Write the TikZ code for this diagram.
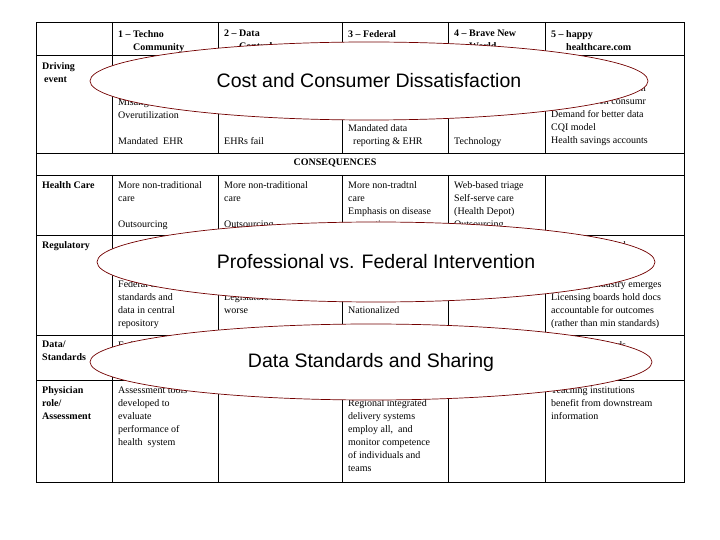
\documentclass[tikz,border=0pt]{standalone}
\usepackage{fontspec}
\setmainfont{Liberation Serif}
\newfontfamily\arialf{Liberation Sans}
\usetikzlibrary{shapes.geometric}
\begin{document}
\begin{tikzpicture}[x=1pt,y=-1pt,
  cell/.style={anchor=north west,inner sep=0pt,align=left,font=\fontsize{10}{13}\selectfont},
  hdr/.style={cell,font=\fontsize{10}{13}\selectfont\bfseries},
  oval/.style={ellipse,draw=red!45!black,fill=white,line width=0.7pt,inner sep=0pt},
  otext/.style={font=\arialf\fontsize{19.5}{21}\selectfont}]
\useasboundingbox (0,0) rectangle (720,540);
% grid
\draw[line width=0.8pt] (36,22) rectangle (684,482);
\foreach \y in {55,153,175,235,335,380} \draw[line width=0.8pt] (36,\y) -- (684,\y);
\foreach \x in {112,218,342,448,545} {
  \draw[line width=0.8pt] (\x,22) -- (\x,153);
  \draw[line width=0.8pt] (\x,175) -- (\x,482);}
% headers
\node[hdr] (h1) at (118,30) {1 -- Techno\\\hspace{15pt}Community};
\node[hdr] (h2) at (224,30) {2 -- Data\\\hspace{15pt}Control};
\node[hdr] (h3) at (348,30) {3 -- Federal};
\node[hdr] (h4) at (454,30) {4 -- Brave New\\\hspace{15pt}World};
\node[hdr] (h5) at (551,30) {5 -- happy\\\hspace{15pt}healthcare.com};
% row labels
\node[hdr] (r1) at (42,62) {Driving\\\hspace{2pt}event};
\node[hdr] at (335,159) [anchor=north] (cons) {CONSEQUENCES};
\node[hdr] (r2) at (42,181) {Health Care};
\node[hdr] (r3) at (42,241) {Regulatory};
\node[hdr] (r4) at (42,341) {Data/\\Standards};
\node[hdr] (r5) at (42,386) {Physician\\role/\\Assessment};
% driving row
\node[cell] (d1) at (118,98) {Misaligned incentives\\Overutilization\\[13pt]Mandated\ \ EHR};
\node[cell] (d2) at (224,137) {EHRs fail};
\node[cell] (d3) at (348,111) {No health system\\Mandated data\\\ \ reporting \& EHR};
\node[cell] (d4) at (454,137) {Technology};
\node[cell] (d5) at (551,85) {Rising consumerization\\Market-driven consumr\\Demand for better data\\CQI model\\Health savings accounts};
% health care row
\node[cell] (c1) at (118,181) {More non-traditional\\care\\[13pt]Outsourcing};
\node[cell] (c2) at (224,181) {More non-traditional\\care\\[13pt]Outsourcing};
\node[cell] (c3) at (348,181) {More non-tradtnl\\care\\Emphasis on disease\\prevention};
\node[cell] (c4) at (454,181) {Web-based triage\\Self-serve care\\(Health Depot)\\Outsourcing};
% regulatory row
\node[cell] (g1) at (118,280) {Federal data\\standards and\\data in central\\repository};
\node[cell] (g2) at (224,293) {Legislators make it\\worse};
\node[cell] (g3) at (348,293) {Healthcare is\\Nationalized};
\node[cell] (g5) at (551,241) {Local and regional\\accreditation of\\physicians are\\Licensing industry emerges\\Licensing boards hold docs\\accountable for outcomes\\(rather than min standards)};
% data row
\node[cell] (s1) at (118,341) {Federal standards};
\node[cell] (s5) at (551,341) {National standards\\\\Privacy};
% physician row
\node[cell] (p1) at (118,386) {Assessment tools\\developed to\\evaluate\\performance of\\health\ \ system};
\node[cell] (p3) at (348,399) {Regional integrated\\delivery systems\\employ all,\ \ and\\monitor competence\\of individuals and\\teams};
\node[cell] (p5) at (551,386) {Teaching institutions\\benefit from downstream\\information};
% ovals
\node[oval,minimum width=558pt,minimum height=78pt] (o1) at (369,81) {};
\node[otext] (t1) at (369,81) {Cost and Consumer Dissatisfaction};
\node[oval,minimum width=558pt,minimum height=80pt] (o2) at (376,262) {};
\node[otext] (t2) at (376,262) {Professional vs. Federal Intervention};
\node[oval,minimum width=562pt,minimum height=76pt] (o3) at (371,362) {};
\node[otext] (t3) at (371,362) {Data Standards and Sharing};
\end{tikzpicture}
\end{document}
